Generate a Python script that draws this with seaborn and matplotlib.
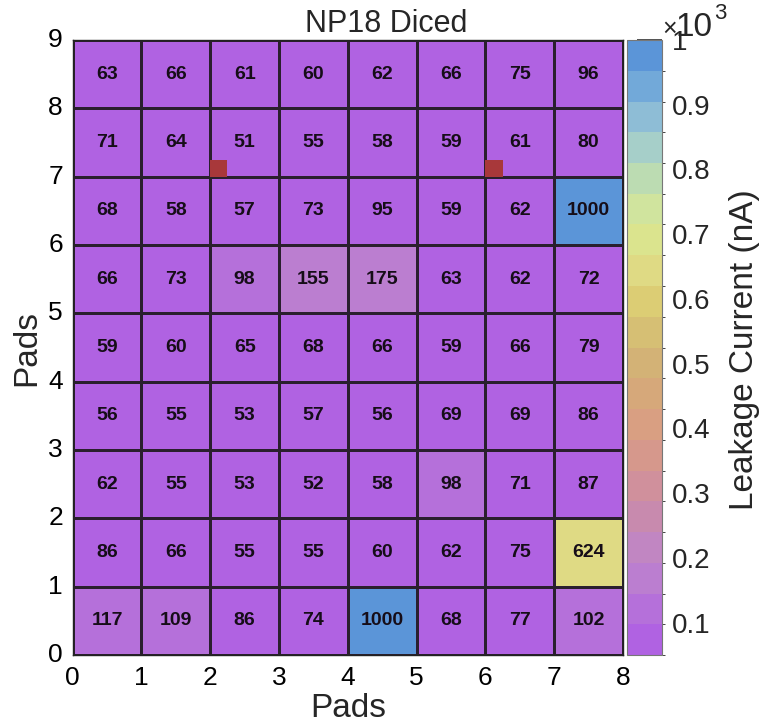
import numpy as np
import pandas as pd
import matplotlib
matplotlib.use("Agg")
import matplotlib.pyplot as plt
from matplotlib.colors import ListedColormap, BoundaryNorm
from matplotlib.patches import Rectangle
import seaborn as sns

sns.set_style("white")
plt.rcParams['font.family'] = ['Liberation Sans', 'DejaVu Sans']

# ---- data (rows listed from bottom pad row 0 to top pad row 8) ----
col_pads = [0, 1, 2, 3, 4, 5, 6, 7]
row_pads = [0, 1, 2, 3, 4, 5, 6, 7, 8]
row0 = [117, 109, 86, 74, 1000, 68, 77, 102]
row1 = [86, 66, 55, 55, 60, 62, 75, 624]
row2 = [62, 55, 53, 52, 58, 98, 71, 87]
row3 = [56, 55, 53, 57, 56, 69, 69, 86]
row4 = [59, 60, 65, 68, 66, 59, 66, 79]
row5 = [66, 73, 98, 155, 175, 63, 62, 72]
row6 = [68, 58, 57, 73, 95, 59, 62, 1000]
row7 = [71, 64, 51, 55, 58, 59, 61, 80]
row8 = [63, 66, 61, 60, 62, 66, 75, 96]
x_ticks = ["0", "1", "2", "3", "4", "5", "6", "7", "8"]
y_ticks = ["0", "1", "2", "3", "4", "5", "6", "7", "8", "9"]
cbar_tick_values = [100, 200, 300, 400, 500, 600, 700, 800, 900, 1000]
cbar_tick_labels = ["0.1", "0.2", "0.3", "0.4", "0.5", "0.6", "0.7", "0.8", "0.9", "1"]
marker_x = [2, 6]
marker_y = [7, 7]

# 20-level palette, bottom to top
band_colors = ["#b062e2", "#b570da", "#bb7ed0", "#c186c2", "#c88aae",
               "#d0909c", "#d6988c", "#d99f82", "#d6a87a", "#d3b276",
               "#d6bf74", "#dccd74", "#dfda84", "#dbe48e", "#d0e49e",
               "#bcdcb2", "#a6cfc9", "#8ebdd6", "#72a9d9", "#5b95d8"]
zmin, zmax = 50, 1000
levels = np.linspace(zmin, zmax, len(band_colors) + 1)
cmap = ListedColormap(band_colors)
norm = BoundaryNorm(levels, len(band_colors))

grid = np.array([row0, row1, row2, row3, row4, row5, row6, row7, row8])
df = pd.DataFrame(grid, index=row_pads, columns=col_pads)

W, H = 771, 725
fig = plt.figure(figsize=(W / 100, H / 100), dpi=100)
ax = fig.add_axes([72.7 / W, 1 - 655 / H, (623 - 72.7) / W, 615 / H])
cax = fig.add_axes([627 / W, 1 - 655 / H, 34.7 / W, 615 / H])

sns.heatmap(df, ax=ax, cmap=cmap, norm=norm, cbar_ax=cax,
            annot=True, fmt="d",
            annot_kws={"color": "#160d18", "fontsize": 14, "fontweight": "bold"},
            linewidths=1.0, linecolor="#2a1f2e",
            cbar_kws={"ticks": cbar_tick_values})
ax.invert_yaxis()

for mx, my in zip(marker_x, marker_y):
    ax.add_patch(Rectangle((mx, my), 0.25, 0.25, facecolor="#a8383a",
                           edgecolor="none", zorder=3))

for s in ax.spines.values():
    s.set_visible(True)
    s.set_color("#222222")
    s.set_linewidth(1.0)

ax.set_xticks(np.arange(len(x_ticks)))
ax.set_xticklabels(x_ticks, rotation=0, fontsize=19)
ax.set_yticks(np.arange(len(y_ticks)))
ax.set_yticklabels(y_ticks, rotation=0, fontsize=19)
ax.tick_params(axis="both", length=0, colors="black")
ax.tick_params(axis="x", pad=8)
ax.tick_params(axis="y", pad=7)
ax.set_xlabel("Pads", fontsize=24, labelpad=2)
ax.set_ylabel("Pads", fontsize=24, labelpad=4)
ax.set_title("NP18 Diced", fontsize=22, pad=6, x=(386 - 72.7) / (623 - 72.7))

cb = ax.collections[0].colorbar
cb.set_ticks(cbar_tick_values)
cb.set_ticklabels(cbar_tick_labels)
cb.ax.tick_params(direction="in", length=18, width=1.2, color="#333333",
                  labelsize=20, pad=7)
cb.outline.set_edgecolor("#777777")
cb.outline.set_linewidth(0.8)

# axis multiplier "x10^3"
fig.text(662 / W, 1 - 36 / H, "×", fontsize=18, ha="left", va="baseline")
fig.text(676 / W, 1 - 36 / H, "10", fontsize=24, ha="left", va="baseline")
fig.text(714 / W, 1 - 19 / H, "3", fontsize=16, ha="left", va="baseline")
fig.text(744 / W, 1 - 350 / H, "Leakage Current (nA)", fontsize=24,
         rotation=90, ha="center", va="center")

fig.savefig("out.png", dpi=100)
